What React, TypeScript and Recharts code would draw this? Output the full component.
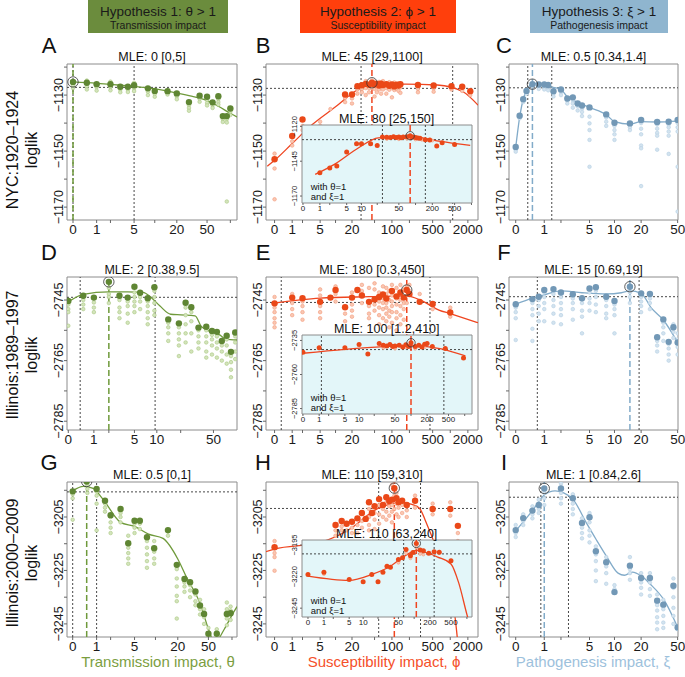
import React from 'react';
import { ComposedChart, Scatter, Line, XAxis, YAxis, ReferenceLine, ReferenceArea } from 'recharts';

document.body.style.margin = '0';

const FONT = '"Liberation Sans", Arial, Helvetica, sans-serif';
const tr = (v: number) => Math.log1p(v);
const fmt = (v: number) => (v < 0 ? '\u2212' + Math.abs(v) : String(v));

// ---- axis ticks ----
const thetaTicks = [0, 1, 2, 5, 10, 20, 50, 100];
const phiTicks = [0, 1, 2, 5, 10, 20, 50, 100, 200, 500, 1000, 2000];
const phiLabels = [0, 1, 5, 20, 100, 500, 2000];
const xiTicks = [0, 1, 2, 5, 10, 20, 50];
const xiLabels = [0, 1, 5, 10, 20, 50];
const insetTicks = [0, 1, 2, 5, 10, 20, 50, 100, 200, 500, 1000];
const insetLabels = [0, 1, 5, 10, 50, 200, 500];

const nycTicks = [-1170, -1160, -1150, -1140, -1130, -1120];
const nycLabels = [-1170, -1150, -1130];
const il89Ticks = [-2785, -2775, -2765, -2755, -2745];
const il89Labels = [-2785, -2765, -2745];
const il00Ticks = [-3245, -3235, -3225, -3215, -3205, -3195];
const il00Labels = [-3245, -3225, -3205];

// ---- A: NYC, theta ----
const aBig = [[0.5, -1125.6], [1, -1126.1], [2, -1126.1], [3, -1127.0], [4, -1127.0], [5, -1126.5], [8, -1127.6], [10, -1128.5], [15, -1128.6], [20, -1129.4], [29, -1132.5], [40, -1130.2], [50, -1130.6], [59, -1132.6], [70, -1130.4], [80, -1137.5], [90, -1137.5], [100, -1134.8]];
const aSmall = [[0, -1126.5], [0, -1127.5], [0.5, -1124.8], [0.5, -1126.9], [0.5, -1128.0], [1, -1127.2], [1, -1128.4], [2, -1125.2], [2, -1127.2], [2, -1128.3], [3, -1128.0], [3, -1129.0], [4, -1128.0], [4, -1128.9], [5, -1125.6], [5, -1127.6], [5, -1128.6], [8, -1128.8], [8, -1130.0], [10, -1129.6], [10, -1130.6], [15, -1129.8], [20, -1130.5], [20, -1131.5], [29, -1133.6], [29, -1134.6], [29, -1135.6], [40, -1131.3], [40, -1132.4], [50, -1131.7], [50, -1132.8], [50, -1133.7], [59, -1133.7], [59, -1134.6], [70, -1131.5], [70, -1132.5], [70, -1133.4], [80, -1138.6], [80, -1139.6], [90, -1138.6], [90, -1139.8], [90, -1168.0], [100, -1135.9], [100, -1137.1]];
const aCurve = [[0, -1125.3], [1, -1125.8], [2, -1126.2], [5, -1126.9], [10, -1127.8], [20, -1129.3], [30, -1130.3], [50, -1132.0], [70, -1134.0], [100, -1136.5], [122, -1137.8]];
const aMle = [0, -1125.3];
const aCi = [0, 5];
const aCut = -1127.25;

// ---- B: NYC, phi ----
const bBig = [[0, -1152.9], [1, -1144.6], [2, -1138.7], [15, -1129.8], [20, -1129.8], [25, -1126.8], [30, -1126.5], [35, -1126.0], [40, -1126.3], [50, -1126.2], [55, -1126.0], [60, -1126.6], [65, -1125.9], [70, -1126.4], [80, -1126.1], [90, -1126.7], [100, -1126.2], [110, -1126.9], [120, -1126.3], [130, -1126.6], [140, -1126.1], [280, -1126.4], [520, -1126.6], [1050, -1126.8], [1600, -1127.0], [2200, -1128.6]];
const bSmall = [[0, -1150.9], [0, -1156.2], [0, -1167.2], [1, -1146.5], [1, -1148.0], [2, -1141.0], [2, -1142.5], [5, -1139.5], [5, -1141.0], [8, -1135.0], [15, -1131.0], [15, -1132.5], [20, -1131.2], [20, -1133.0], [25, -1128.0], [25, -1129.5], [30, -1127.8], [30, -1129.0], [35, -1125.0], [35, -1127.5], [35, -1130.0], [40, -1127.5], [40, -1129.0], [45, -1124.8], [45, -1127.5], [50, -1125.2], [50, -1127.8], [50, -1130.5], [55, -1127.2], [55, -1129.0], [60, -1125.3], [60, -1128.0], [65, -1127.3], [65, -1129.5], [70, -1125.0], [70, -1128.0], [80, -1127.5], [80, -1129.5], [90, -1125.4], [90, -1128.1], [100, -1127.5], [100, -1130.8], [110, -1125.5], [110, -1128.2], [120, -1127.8], [130, -1125.8], [130, -1128.5], [140, -1127.3], [140, -1129.2], [280, -1127.8], [280, -1129.0], [520, -1127.6], [520, -1128.8], [1050, -1128.0], [1600, -1128.5], [2200, -1130.0]];
const bCurve = [[-0.25, -1155.4], [0, -1153.3], [1, -1147.3], [3.3, -1140.7], [10, -1134.2], [25, -1128.2], [45, -1126.4], [170, -1126.1], [600, -1126.4], [1650, -1128.8], [2980, -1133.6]];
const bMle = [45, -1125.6];
const bCi = [29, 1100];
const bCut = -1127.6;

const bInBig = [[1, -1153.3], [2, -1149.9], [3, -1148.5], [5, -1138.3], [8, -1132.5], [10, -1132.5], [15, -1132.5], [20, -1133.7], [25, -1127.6], [30, -1127.8], [35, -1128.0], [40, -1127.5], [45, -1127.9], [50, -1127.6], [55, -1128.1], [60, -1127.7], [70, -1127.4], [90, -1127.6], [100, -1128.0], [110, -1128.3], [120, -1128.6], [150, -1129.5], [180, -1129.8], [240, -1134.1], [300, -1131.8], [500, -1133.0]];
const bInSmall = [[30, -1129.0], [50, -1129.2], [70, -1128.8], [100, -1129.4], [130, -1129.6], [200, -1130.2]];
const bInCurve = [[0.65, -1154.5], [2.75, -1146.9], [8.8, -1135.3], [21, -1128.3], [80, -1127.2], [260, -1130.6], [950, -1133.7]];
const bInMle = [80, -1126.7];
const bInCi = [25, 150];
const bInCut = -1129.5;

// ---- C: NYC, xi ----
const cBig = [[0, -1148.5], [0.1, -1137.4], [0.2, -1131.5], [0.3, -1128.5], [0.75, -1126.2], [1, -1126.2], [1.2, -1126.4], [1.5, -1128.6], [2, -1128.0], [2.5, -1131.2], [3, -1130.8], [3.5, -1133.0], [4, -1133.7], [5, -1134.4], [8, -1136.9], [10, -1139.9], [15, -1140.1], [20, -1138.9], [30, -1139.6], [40, -1139.5], [50, -1138.9]];
const cSmall = [[0, -1149.5], [0, -1150.2], [0.1, -1138.3], [0.2, -1132.5], [0.3, -1129.5], [0.5, -1126.8], [0.75, -1127.0], [0.75, -1127.8], [1, -1127.2], [1, -1128.0], [1.2, -1127.3], [1.2, -1128.3], [1.5, -1129.5], [1.5, -1130.5], [2, -1129.0], [2, -1130.0], [2.5, -1132.0], [2.5, -1133.0], [3, -1131.8], [3, -1133.0], [3, -1134.5], [3.5, -1134.0], [3.5, -1135.5], [4, -1134.8], [4, -1136.0], [4, -1137.5], [5, -1137.7], [5, -1140.1], [5, -1142.5], [5, -1146.0], [5, -1155.6], [8, -1138.0], [8, -1139.5], [8, -1141.0], [10, -1141.0], [10, -1142.5], [10, -1144.0], [10, -1146.0], [15, -1141.5], [15, -1142.5], [20, -1140.0], [20, -1142.0], [20, -1144.0], [20, -1148.0], [20, -1149.0], [20, -1162.5], [30, -1140.5], [30, -1142.0], [30, -1143.5], [30, -1144.5], [30, -1149.5], [40, -1140.5], [40, -1141.5], [40, -1143.0], [40, -1144.5], [40, -1151.0], [50, -1140.0], [50, -1141.5], [50, -1143.0], [50, -1155.6], [50, -1171.6]];
const cCurve = [[0, -1148.7], [0.11, -1137.1], [0.2, -1131.5], [0.31, -1128.2], [0.47, -1126.1], [0.67, -1125.8], [1, -1126.2], [1.3, -1127.0], [2, -1128.0], [2.45, -1130.4], [3.4, -1132.4], [5, -1134.4], [8.1, -1137.1], [10, -1139.5], [15, -1140.4], [20, -1139.5], [30, -1139.6], [50, -1139.3]];
const cMle = [0.5, -1126.1];
const cCi = [0.34, 1.4];
const cCut = -1127.4;

// ---- D: Illinois 1989-1997, theta ----
const dBig = [[0, -2745.3], [0.5, -2743.6], [1, -2744.2], [3, -2743.6], [4, -2744.2], [5, -2740.6], [6, -2742.6], [7.6, -2744.4], [9.3, -2740.8], [14, -2751.4], [19, -2752.7], [23, -2745.9], [27, -2747.4], [33, -2754.1], [41, -2753.8], [48, -2755.2], [55, -2755.5], [63, -2758.5], [72, -2756.8], [81, -2762.1], [91, -2755.7]];
const dSmall = [[0, -2746.5], [0, -2748.0], [0, -2749.0], [0, -2753.5], [0.5, -2745.0], [0.5, -2746.5], [0.5, -2748.0], [1, -2745.8], [1, -2747.5], [1, -2749.0], [2, -2741.0], [2, -2743.0], [2, -2744.0], [2, -2746.0], [3, -2745.0], [3, -2747.5], [3, -2749.0], [3, -2751.0], [4, -2745.5], [4, -2747.0], [4, -2749.5], [4, -2752.5], [5, -2742.5], [5, -2744.0], [5, -2745.5], [5, -2747.0], [5, -2749.0], [6, -2744.0], [6, -2745.5], [6, -2748.0], [7.6, -2745.5], [7.6, -2747.0], [7.6, -2749.0], [7.6, -2751.0], [7.6, -2753.0], [9.3, -2742.0], [9.3, -2744.0], [9.3, -2746.0], [9.3, -2748.5], [9.3, -2750.0], [14, -2752.5], [14, -2754.0], [14, -2756.0], [14, -2758.5], [19, -2754.0], [19, -2756.0], [19, -2758.0], [19, -2760.0], [19, -2763.5], [23, -2747.5], [23, -2750.0], [23, -2753.0], [23, -2756.0], [23, -2759.0], [27, -2749.0], [27, -2752.0], [27, -2756.0], [27, -2762.0], [33, -2755.0], [33, -2757.0], [33, -2759.0], [33, -2761.0], [41, -2755.0], [41, -2757.0], [41, -2759.0], [41, -2762.0], [41, -2764.0], [48, -2756.5], [48, -2758.0], [48, -2760.0], [48, -2763.0], [55, -2757.0], [55, -2759.0], [55, -2761.0], [55, -2764.0], [63, -2760.0], [63, -2762.0], [63, -2765.0], [72, -2758.0], [72, -2760.0], [72, -2763.0], [72, -2766.0], [81, -2763.5], [81, -2765.5], [81, -2768.0], [81, -2770.5], [91, -2757.0], [91, -2759.0], [91, -2762.0], [91, -2764.5]];
const dCurve = [[0, -2745.6], [0.5, -2743.1], [2, -2742.3], [4, -2742.3], [6.6, -2742.5], [8.2, -2743.9], [11, -2747.0], [15, -2749.7], [20, -2749.9], [30, -2750.2], [36, -2753.8], [60, -2756.6], [70, -2757.9], [96, -2758.2]];
const dMle = [2, -2739.0];
const dCi = [0.38, 9.5];
const dCut = -2744.1;

// ---- E: Illinois 1989-1997, phi ----
const eBig = [[0, -2746.1], [1, -2744.2], [2, -2744.4], [5, -2745.6], [8, -2744.2], [10, -2741.7], [15, -2747.4], [20, -2744.2], [25, -2741.7], [30, -2743.5], [40, -2745.6], [50, -2744.8], [60, -2744.0], [70, -2743.2], [80, -2744.5], [100, -2742.0], [120, -2743.8], [140, -2742.5], [160, -2744.2], [200, -2743.0], [300, -2745.6], [500, -2746.3], [1000, -2749.1]];
const eSmall = [[0, -2744.0], [0, -2747.5], [0, -2749.0], [0, -2751.0], [0, -2752.5], [0, -2754.0], [1, -2743.0], [1, -2746.0], [1, -2748.0], [1, -2750.0], [2, -2745.5], [2, -2747.0], [2, -2749.0], [2, -2751.5], [5, -2741.5], [5, -2743.5], [5, -2747.0], [5, -2749.0], [5, -2751.0], [10, -2740.5], [10, -2743.0], [10, -2745.5], [15, -2749.5], [15, -2752.0], [20, -2742.5], [20, -2746.5], [20, -2748.5], [20, -2750.5], [30, -2740.0], [30, -2742.0], [30, -2746.0], [40, -2741.0], [40, -2747.0], [40, -2749.5], [40, -2751.0], [50, -2739.5], [50, -2741.5], [50, -2746.5], [50, -2748.5], [60, -2742.5], [60, -2745.5], [60, -2747.5], [60, -2750.0], [60, -2753.0], [70, -2740.5], [70, -2744.5], [70, -2746.0], [70, -2748.0], [70, -2751.0], [80, -2741.0], [80, -2743.0], [80, -2746.0], [80, -2747.5], [80, -2749.5], [80, -2752.0], [90, -2742.0], [90, -2745.0], [90, -2748.5], [90, -2750.5], [90, -2754.0], [100, -2740.0], [100, -2743.5], [100, -2745.5], [100, -2747.0], [100, -2749.0], [100, -2752.5], [120, -2741.0], [120, -2744.5], [120, -2746.5], [120, -2749.0], [120, -2751.0], [120, -2755.0], [140, -2740.0], [140, -2745.0], [140, -2747.0], [140, -2750.0], [140, -2753.0], [160, -2741.5], [160, -2746.0], [160, -2748.0], [160, -2751.5], [180, -2740.5], [180, -2743.5], [180, -2746.0], [200, -2740.0], [200, -2742.0], [300, -2743.0], [500, -2748.0], [1000, -2747.5], [1000, -2750.5]];
const eCurve = [[-0.1, -2746.1], [5, -2744.4], [40, -2743.9], [180, -2743.6], [330, -2745.3], [640, -2748.3], [1000, -2749.5], [2980, -2752.5]];
const eMle = [180, -2741.7];
const eCi = [0.3, 450];
const eCut = -2745.8;

const eInBig = [[0, -2743.7], [1, -2740.4], [5, -2740.4], [10, -2738.0], [15, -2744.9], [25, -2737.2], [30, -2738.5], [35, -2739.0], [40, -2738.0], [45, -2739.5], [50, -2739.0], [60, -2738.5], [70, -2739.8], [80, -2738.2], [90, -2739.5], [120, -2739.4], [140, -2738.6], [160, -2739.8], [180, -2737.8], [200, -2737.2], [250, -2739.5], [436, -2741.0], [950, -2747.8]];
const eInSmall = [[30, -2740.5], [50, -2741.0], [80, -2740.2], [120, -2741.0], [180, -2740.0]];
const eInCurve = [[0, -2744.4], [5, -2741.5], [30, -2739.5], [100, -2738.8], [347, -2741.0], [1030, -2746.4]];
const eInMle = [100, -2736.7];
const eInCi = [1.2, 410];
const eInCut = -2741.7;

// ---- F: Illinois 1989-1997, xi ----
const fBig = [[0, -2746.4], [0.5, -2744.7], [0.75, -2743.9], [1, -2741.7], [1.5, -2741.4], [2, -2742.5], [3, -2743.1], [4, -2744.4], [5, -2741.2], [6, -2740.8], [8, -2743.9], [10, -2745.3], [20, -2742.8], [25, -2743.0], [30, -2757.3], [35, -2751.4], [40, -2758.8], [45, -2754.0], [50, -2759.0]];
const fSmall = [[0, -2747.5], [0, -2749.0], [0, -2751.0], [0, -2758.2], [0.5, -2746.0], [0.5, -2748.0], [0.5, -2750.0], [0.5, -2754.5], [0.5, -2758.5], [0.75, -2745.0], [0.75, -2747.0], [0.75, -2749.5], [0.75, -2752.0], [1, -2742.5], [1, -2744.0], [1, -2746.0], [1, -2748.0], [1, -2752.0], [1.5, -2743.0], [1.5, -2745.0], [1.5, -2747.0], [1.5, -2749.5], [1.5, -2752.5], [2, -2744.0], [2, -2746.0], [2, -2748.0], [2, -2750.0], [2, -2753.0], [3, -2744.5], [3, -2746.0], [3, -2748.0], [3, -2751.5], [4, -2746.0], [4, -2748.5], [4, -2750.5], [4, -2756.0], [5, -2742.5], [5, -2744.5], [5, -2746.0], [5, -2748.5], [6, -2742.0], [6, -2744.0], [6, -2746.5], [6, -2749.0], [8, -2745.0], [8, -2747.0], [8, -2749.5], [8, -2751.0], [10, -2746.5], [10, -2748.0], [10, -2750.0], [10, -2756.0], [15, -2742.5], [15, -2744.0], [15, -2746.0], [20, -2744.0], [20, -2745.5], [20, -2747.0], [20, -2749.0], [25, -2744.5], [25, -2746.0], [25, -2748.0], [30, -2758.5], [30, -2760.0], [30, -2762.0], [35, -2752.5], [35, -2754.0], [35, -2756.0], [35, -2758.5], [40, -2759.5], [40, -2761.0], [40, -2763.0], [40, -2765.0], [45, -2753.0], [45, -2755.5], [45, -2757.5], [50, -2756.0], [50, -2758.0], [50, -2760.5], [50, -2763.0]];
const fCurve = [[0, -2746.4], [0.5, -2744.4], [1, -2743.3], [2, -2742.0], [4, -2742.6], [8, -2743.0], [12, -2742.6], [15, -2742.0], [20, -2742.8], [26, -2747.7], [35, -2751.6], [50, -2759.0]];
const fMle = [15, -2740.6];
const fCi = [0.69, 19];
const fCut = -2743.9;

// ---- G: Illinois 2000-2009, theta ----
const gBig = [[0, -3195.4], [1, -3194.5], [1.55, -3198.9], [2, -3204.3], [3, -3202.0], [4, -3214.8], [5, -3206.4], [6, -3206.4], [7.6, -3212.6], [9.6, -3216.7], [14.8, -3209.9], [19.4, -3222.9], [24.5, -3228.2], [29, -3229.4], [34, -3232.9], [39, -3238.1], [44, -3241.3], [50, -3248.7], [64, -3248.7], [86, -3241.3], [96, -3241.0]];
const gSmall = [[0, -3196.5], [0, -3198.0], [0, -3206.0], [0.53, -3193.0], [0.53, -3194.5], [0.53, -3196.0], [1, -3195.5], [1, -3197.0], [1, -3200.0], [1, -3210.0], [1.55, -3200.0], [1.55, -3201.5], [1.55, -3203.0], [2, -3205.0], [2, -3207.0], [2, -3209.0], [2, -3211.0], [3, -3203.5], [3, -3205.0], [3, -3207.0], [4, -3212.0], [4, -3216.5], [4, -3218.5], [4, -3220.5], [4, -3222.5], [5, -3207.5], [5, -3209.0], [5, -3211.0], [6, -3207.5], [6, -3209.5], [7.6, -3214.0], [7.6, -3216.5], [7.6, -3219.0], [7.6, -3221.5], [7.6, -3224.0], [9.6, -3214.0], [9.6, -3218.0], [9.6, -3220.5], [9.6, -3222.5], [14.8, -3210.5], [14.8, -3212.0], [19.4, -3224.5], [19.4, -3228.0], [19.4, -3231.0], [19.4, -3234.5], [19.4, -3236.5], [19.4, -3243.0], [24.5, -3229.5], [24.5, -3231.0], [24.5, -3233.0], [29, -3230.5], [29, -3232.5], [29, -3235.0], [34, -3234.0], [34, -3236.5], [34, -3238.0], [39, -3236.0], [39, -3239.5], [39, -3241.5], [44, -3239.5], [44, -3242.5], [44, -3245.0], [50, -3246.5], [64, -3247.0], [86, -3237.0], [86, -3239.5], [86, -3243.0], [86, -3245.5], [96, -3238.5], [96, -3240.0], [96, -3243.5]];
const gCurve = [[0, -3195.2], [0.36, -3193.5], [0.81, -3194.3], [1.4, -3198.3], [3, -3207.0], [5, -3208.5], [8, -3211.4], [12.7, -3213.0], [20, -3220.7], [26, -3227.5], [40, -3238.1], [50, -3246.9], [60, -3252.0], [80, -3246.9], [105, -3240.6], [116, -3238.5]];
const gMle = [0.5, -3191.7];
const gCi = [0, 1];
const gCut = -3195.6;

// ---- H: Illinois 2000-2009, phi ----
const hBig = [[0, -3216.3], [10, -3208.0], [13, -3206.5], [16, -3207.5], [20, -3206.8], [25, -3205.5], [30, -3203.5], [35, -3205.7], [40, -3199.5], [45, -3203.5], [50, -3201.0], [60, -3198.3], [70, -3200.5], [80, -3197.6], [90, -3199.0], [100, -3198.5], [120, -3198.0], [130, -3199.5], [150, -3198.9], [180, -3200.5], [250, -3198.9], [500, -3202.0], [1000, -3202.0], [1350, -3208.3]];
const hSmall = [[0, -3214.0], [0, -3218.5], [0, -3220.0], [0, -3225.1], [10, -3210.0], [10, -3212.0], [13, -3208.5], [13, -3210.0], [16, -3210.0], [20, -3209.0], [20, -3211.0], [25, -3208.0], [25, -3211.0], [30, -3206.5], [30, -3209.0], [40, -3202.0], [40, -3205.0], [40, -3208.0], [40, -3210.0], [50, -3203.5], [50, -3206.0], [50, -3209.5], [60, -3200.5], [60, -3204.0], [60, -3207.5], [70, -3202.0], [70, -3205.0], [80, -3199.5], [80, -3203.0], [80, -3206.0], [90, -3201.0], [90, -3204.5], [100, -3193.0], [100, -3200.5], [100, -3203.0], [100, -3207.0], [110, -3191.5], [110, -3197.0], [110, -3202.0], [120, -3196.0], [120, -3200.0], [120, -3204.0], [130, -3201.5], [130, -3205.0], [150, -3200.5], [150, -3203.5], [180, -3202.5], [180, -3205.0], [250, -3197.0], [250, -3201.5], [500, -3200.0], [500, -3204.0], [1000, -3199.5], [1000, -3204.5], [1350, -3211.0], [1350, -3214.0]];
const hCurve = [[-0.3, -3218.0], [0, -3217.0], [5, -3214.5], [20, -3209.0], [50, -3202.5], [100, -3200.0], [150, -3199.6], [220, -3200.3], [300, -3201.8], [370, -3206.0], [600, -3218.0], [900, -3232.0], [1200, -3242.0], [1400, -3256.0]];
const hMle = [110, -3194.2];
const hCi = [59, 310];
const hCut = -3201.8;

const hInBig = [[0, -3218.3], [1, -3216.5], [5, -3222.2], [10, -3224.1], [15, -3218.3], [20, -3224.1], [25, -3216.5], [30, -3211.8], [35, -3212.5], [50, -3206.5], [60, -3205.0], [70, -3198.6], [85, -3203.4], [95, -3201.0], [130, -3199.0], [150, -3199.5], [190, -3201.5], [240, -3200.3], [300, -3200.8], [500, -3207.5]];
const hInSmall = [[1, -3218.0], [50, -3209.0], [70, -3201.5], [85, -3205.5], [110, -3197.0], [130, -3202.0], [150, -3202.5]];
const hInCurve = [[0, -3219.6], [5, -3223.0], [15, -3218.3], [35, -3211.8], [70, -3203.0], [110, -3199.2], [190, -3201.7], [280, -3204.5], [500, -3210.0], [700, -3225.0], [1000, -3250.0], [1200, -3262.0]];
const hInMle = [110, -3193.7];
const hInCi = [63, 240];
const hInCut = -3202.0;

// ---- I: Illinois 2000-2009, xi ----
const iBig = [[0, -3209.9], [0.2, -3205.4], [0.5, -3202.6], [0.75, -3200.5], [2, -3194.3], [3, -3198.0], [4, -3207.2], [5, -3205.1], [6, -3217.8], [8, -3221.9], [10, -3233.1], [15, -3223.2], [20, -3227.8], [25, -3227.8], [30, -3236.3], [35, -3237.8], [45, -3230.7], [50, -3246.3]];
const iSmall = [[0, -3208.0], [0, -3211.0], [0, -3212.5], [0.2, -3204.0], [0.2, -3206.5], [0.2, -3208.0], [0.5, -3201.0], [0.5, -3204.0], [0.5, -3205.5], [0.75, -3198.5], [0.75, -3202.0], [0.75, -3203.5], [1, -3196.0], [1, -3198.0], [1, -3200.5], [2, -3192.5], [2, -3196.0], [2, -3198.0], [2, -3200.0], [3, -3196.5], [3, -3200.0], [3, -3202.0], [3, -3204.0], [4, -3205.5], [4, -3209.0], [4, -3211.0], [4, -3213.0], [5, -3203.5], [5, -3207.0], [5, -3210.0], [5, -3212.0], [5, -3214.5], [6, -3216.0], [6, -3219.0], [6, -3221.5], [6, -3225.0], [6, -3229.0], [8, -3220.0], [8, -3223.5], [8, -3226.0], [8, -3230.0], [10, -3230.5], [10, -3232.0], [15, -3220.0], [15, -3224.5], [15, -3226.0], [15, -3228.5], [20, -3226.0], [20, -3229.5], [20, -3231.5], [20, -3234.0], [25, -3226.0], [25, -3229.5], [25, -3232.0], [25, -3234.5], [30, -3234.0], [30, -3238.0], [30, -3240.0], [30, -3242.5], [30, -3244.5], [30, -3247.0], [35, -3236.0], [35, -3239.5], [35, -3242.0], [35, -3244.5], [35, -3246.5], [45, -3228.0], [45, -3231.5], [45, -3235.0], [45, -3239.0], [45, -3242.0], [45, -3245.0], [50, -3247.0]];
const iCurve = [[0, -3210.2], [0.5, -3202.6], [1, -3196.8], [1.6, -3195.2], [2.2, -3196.0], [3, -3198.3], [4.6, -3207.4], [6.1, -3213.6], [8.1, -3219.8], [11, -3226.0], [13, -3226.8], [16, -3225.6], [20, -3227.0], [25, -3230.0], [36, -3236.3], [50, -3246.3]];
const iMle = [1, -3194.3];
const iCi = [0.84, 2.6];
const iCut = -3197.6;

// ---- styles ----
const GREEN = { line: '#6f9a3b', big: '#5f8633', small: '#a9c782', fill: '#d3e4bb', title: '#7b9e3f' };
const RED = { line: '#ef4520', big: '#ea4818', small: '#f49a7c', fill: '#f9c7b2', title: '#f5502a' };
const BLUE = { line: '#82abc9', big: '#7298b6', small: '#b3cee2', fill: '#d3e3ef', title: '#9dc1dc' };

const ROW1 = { top: 64, h: 156, y: [-1174.6, -1118.9], ticks: nycTicks, labels: nycLabels };
const ROW2 = { top: 277, h: 153, y: [-2787.9, -2737.4], ticks: il89Ticks, labels: il89Labels };
const ROW3 = { top: 482, h: 155, y: [-3249.9, -3191.9], ticks: il00Ticks, labels: il00Labels };
const COL1 = { left: 67, w: 170 };
const COL2 = { left: 266, w: 212 };
const COL3 = { left: 509, w: 169 };

type Cfg = {
  left: number; top: number; w: number; h: number;
  xDom: number[]; yDom: number[];
  xTicks: number[]; xLabels: number[]; yTicks: number[]; yLabels: number[];
  small: number[][]; big: number[][]; curve: number[][];
  mle: number[]; ci: number[]; cut: number; pal: any; inset?: boolean;
};

const toPts = (arr: number[][]) => arr.map(([x, y]) => ({ t: tr(x), y }));

function Panel({ c }: { c: Cfg }) {
  const ins = !!c.inset;
  const padL = ins ? 16 : 40;
  const padR = ins ? 12 : 20;
  const padT = ins ? 14 : 2;
  const padB = ins ? 12 : 24;
  const xFs = ins ? 8 : 13.5;
  const yFs = ins ? 7.5 : 12.5;
  const tks = ins ? 2 : 3;
  const xt = c.xTicks.filter((v) => tr(v) >= c.xDom[0] && tr(v) <= c.xDom[1]);
  const yt = c.yTicks.filter((v) => v >= c.yDom[0] && v <= c.yDom[1]);
  const rBig = ins ? 2.5 : 3.2;
  const rSmall = ins ? 1.5 : 1.8;

  const XTick = (p: any) => {
    const v = xt.find((q) => Math.abs(tr(q) - p.payload.value) < 1e-6);
    if (v === undefined || !c.xLabels.includes(v)) return null;
    return (
      <text x={p.x} y={p.y + (ins ? 2.5 : 4)} textAnchor="middle" dominantBaseline="central" fontSize={xFs} fontFamily={FONT} fill="#1a1a1a">
        {v}
      </text>
    );
  };
  const YTick = (p: any) => {
    if (!c.yLabels.includes(p.payload.value)) return null;
    const cx = p.x - (ins ? 4.5 : 3);
    return (
      <text x={cx} y={p.y} transform={`rotate(-90 ${cx} ${p.y})`} textAnchor="middle" dominantBaseline="central" fontSize={yFs} fontFamily={FONT} fill="#1a1a1a">
        {fmt(p.payload.value)}
      </text>
    );
  };

  return (
    <div style={{ position: 'absolute', left: c.left - padL, top: c.top - padT }}>
      <ComposedChart width={c.w + padL + padR} height={c.h + padB + padT} margin={{ top: padT, right: padR, left: 0, bottom: 0 }}>
        <XAxis type="number" dataKey="t" domain={c.xDom} allowDataOverflow ticks={xt.map(tr)} interval={0}
          tick={XTick} tickLine={{ stroke: '#666' }} tickSize={tks} tickMargin={ins ? 1 : 2} axisLine={false} height={padB} />
        <YAxis type="number" dataKey="y" domain={c.yDom} allowDataOverflow ticks={yt} interval={0}
          tick={YTick} tickLine={{ stroke: '#666' }} tickSize={tks} tickMargin={ins ? 1 : 2} axisLine={false} width={padL} />
        <ReferenceArea x1={c.xDom[0]} x2={c.xDom[1]} y1={c.yDom[0]} y2={c.yDom[1]}
          fill={ins ? '#e3f6f9' : 'none'} fillOpacity={1} stroke="#8c8c8c" strokeWidth={1} />
        <ReferenceLine y={c.cut} stroke="#333" strokeDasharray="2 2" strokeWidth={0.9} />
        <ReferenceLine x={tr(c.ci[0])} stroke="#333" strokeDasharray="2 2" strokeWidth={0.9} />
        <ReferenceLine x={tr(c.ci[1])} stroke="#333" strokeDasharray="2 2" strokeWidth={0.9} />
        <ReferenceLine x={tr(c.mle[0])} stroke={c.pal.line} strokeDasharray="6 3" strokeWidth={1.5} />
        <Scatter data={toPts(c.small)} isAnimationActive={false}
          shape={(p: any) => <circle cx={p.cx} cy={p.cy} r={rSmall} fill={c.pal.fill} stroke={c.pal.small} strokeWidth={0.6} />} />
        <Line data={toPts(c.curve)} dataKey="y" type="monotone" stroke={c.pal.line} strokeWidth={1.3} dot={false} isAnimationActive={false} />
        <Scatter data={toPts(c.big)} isAnimationActive={false}
          shape={(p: any) => <circle cx={p.cx} cy={p.cy} r={rBig} fill={c.pal.big} />} />
        <Scatter data={toPts([c.mle])} isAnimationActive={false}
          shape={(p: any) => (
            <g>
              <circle cx={p.cx} cy={p.cy} r={rBig} fill={c.pal.big} />
              <circle cx={p.cx} cy={p.cy} r={ins ? 4.2 : 5.2} fill="none" stroke="#333" strokeWidth={0.8} />
            </g>
          )} />
      </ComposedChart>
    </div>
  );
}

const title = (m: number[], ci: number[]) => `MLE: ${m[0]} [${ci[0]},${ci[1]}]`;

const panels: Cfg[] = [
  { ...COL1, top: ROW1.top, h: ROW1.h, xDom: [-0.176, 4.81], yDom: ROW1.y, xTicks: thetaTicks, xLabels: [0, 1, 5, 20, 50], yTicks: ROW1.ticks, yLabels: ROW1.labels, small: aSmall, big: aBig, curve: aCurve, mle: aMle, ci: aCi, cut: aCut, pal: GREEN },
  { ...COL2, top: ROW1.top, h: ROW1.h, xDom: [-0.337, 8.0], yDom: ROW1.y, xTicks: phiTicks, xLabels: phiLabels, yTicks: ROW1.ticks, yLabels: ROW1.labels, small: bSmall, big: bBig, curve: bCurve, mle: bMle, ci: bCi, cut: bCut, pal: RED },
  { ...COL3, top: ROW1.top, h: ROW1.h, xDom: [-0.163, 3.94], yDom: ROW1.y, xTicks: xiTicks, xLabels: xiLabels, yTicks: ROW1.ticks, yLabels: ROW1.labels, small: cSmall, big: cBig, curve: cCurve, mle: cMle, ci: cCi, cut: cCut, pal: BLUE },
  { ...COL1, top: ROW2.top, h: ROW2.h, xDom: [-0.035, 4.57], yDom: ROW2.y, xTicks: thetaTicks, xLabels: [0, 1, 5, 10, 50], yTicks: ROW2.ticks, yLabels: ROW2.labels, small: dSmall, big: dBig, curve: dCurve, mle: dMle, ci: dCi, cut: dCut, pal: GREEN },
  { ...COL2, top: ROW2.top, h: ROW2.h, xDom: [-0.337, 8.0], yDom: ROW2.y, xTicks: phiTicks, xLabels: phiLabels, yTicks: ROW2.ticks, yLabels: ROW2.labels, small: eSmall, big: eBig, curve: eCurve, mle: eMle, ci: eCi, cut: eCut, pal: RED },
  { ...COL3, top: ROW2.top, h: ROW2.h, xDom: [-0.163, 3.94], yDom: ROW2.y, xTicks: xiTicks, xLabels: xiLabels, yTicks: ROW2.ticks, yLabels: ROW2.labels, small: fSmall, big: fBig, curve: fCurve, mle: fMle, ci: fCi, cut: fCut, pal: BLUE },
  { ...COL1, top: ROW3.top, h: ROW3.h, xDom: [-0.165, 4.76], yDom: ROW3.y, xTicks: thetaTicks, xLabels: [0, 1, 5, 20, 50], yTicks: ROW3.ticks, yLabels: ROW3.labels, small: gSmall, big: gBig, curve: gCurve, mle: gMle, ci: gCi, cut: gCut, pal: GREEN },
  { ...COL2, top: ROW3.top, h: ROW3.h, xDom: [-0.337, 8.0], yDom: ROW3.y, xTicks: phiTicks, xLabels: phiLabels, yTicks: ROW3.ticks, yLabels: ROW3.labels, small: hSmall, big: hBig, curve: hCurve, mle: hMle, ci: hCi, cut: hCut, pal: RED },
  { ...COL3, top: ROW3.top, h: ROW3.h, xDom: [-0.163, 3.94], yDom: ROW3.y, xTicks: xiTicks, xLabels: xiLabels, yTicks: ROW3.ticks, yLabels: ROW3.labels, small: iSmall, big: iBig, curve: iCurve, mle: iMle, ci: iCi, cut: iCut, pal: BLUE },
];

const insets: Cfg[] = [
  { left: 301.7, top: 125, w: 170, h: 78, xDom: [-0.04, 6.93], yDom: [-1175, -1119], xTicks: insetTicks, xLabels: insetLabels, yTicks: [-1170, -1145, -1120], yLabels: [-1170, -1145, -1120], small: bInSmall, big: bInBig, curve: bInCurve, mle: bInMle, ci: bInCi, cut: bInCut, pal: RED, inset: true },
  { left: 301.7, top: 335, w: 170, h: 79, xDom: [-0.04, 7.22], yDom: [-2789, -2731], xTicks: insetTicks, xLabels: insetLabels, yTicks: [-2785, -2760, -2735], yLabels: [-2785, -2760, -2735], small: eInSmall, big: eInBig, curve: eInCurve, mle: eInMle, ci: eInCi, cut: eInCut, pal: RED, inset: true },
  { left: 301.7, top: 540, w: 170, h: 77, xDom: [-0.26, 7.13], yDom: [-3252, -3191], xTicks: insetTicks, xLabels: insetLabels, yTicks: [-3245, -3220, -3195], yLabels: [-3245, -3220, -3195], small: hInSmall, big: hInBig, curve: hInCurve, mle: hInMle, ci: hInCi, cut: hInCut, pal: RED, inset: true },
];

const letters = [['A', 49, 45], ['B', 263, 45], ['C', 504, 45], ['D', 49, 252], ['E', 263, 252], ['F', 504, 252], ['G', 49, 462], ['H', 263, 462], ['I', 504, 462]];
const rows = [['NYC:1920\u20131924', 150], ['Illinois:1989\u20131997', 355], ['Illinois:2000\u20132009', 563]];
const headers = [
  { x: 88, w: 140, fill: '#6b8c3d', l1: 'Hypothesis 1: \u03b8 > 1', l2: 'Transmission impact' },
  { x: 300, w: 156, fill: '#ff3f0c', l1: 'Hypothesis 2: \u03d5 > 1', l2: 'Susceptibility impact' },
  { x: 530, w: 138, fill: '#8fb5cf', l1: 'Hypothesis 3: \u03be > 1', l2: 'Pathogenesis impact' },
];
const xTitles = [
  { text: 'Transmission impact, \u03b8', x: 158, color: GREEN.title },
  { text: 'Susceptibility impact, \u03d5', x: 384, color: RED.title },
  { text: 'Pathogenesis impact, \u03be', x: 593, color: BLUE.title },
];

export default function App() {
  return (
    <div style={{ position: 'relative', width: 685, height: 677, background: '#fff', fontFamily: FONT, overflow: 'hidden' }}>
      {panels.map((c, i) => <Panel key={'p' + i} c={c} />)}
      {insets.map((c, i) => <Panel key={'i' + i} c={c} />)}
      <svg width={685} height={677} style={{ position: 'absolute', left: 0, top: 0, pointerEvents: 'none' }} fontFamily={FONT}>
        {headers.map((h) => (
          <g key={h.l1}>
            <rect x={h.x} y={0} width={h.w} height={33} fill={h.fill} />
            <text x={h.x + h.w / 2} y={11} textAnchor="middle" dominantBaseline="central" fontSize={13.5} fill="#1a1a1a">{h.l1}</text>
            <text x={h.x + h.w / 2} y={25} textAnchor="middle" dominantBaseline="central" fontSize={10.5} fill="#1a1a1a">{h.l2}</text>
          </g>
        ))}
        {letters.map(([t, x, y]) => (
          <text key={t as string} x={x as number} y={y as number} textAnchor="middle" dominantBaseline="central" fontSize={22} fill="#111">{t}</text>
        ))}
        {rows.map(([t, y]) => (
          <g key={t as string}>
            <text x={12} y={y as number} transform={`rotate(-90 12 ${y})`} textAnchor="middle" dominantBaseline="central" fontSize={16} fill="#111">{t}</text>
            <text x={31} y={y as number} transform={`rotate(-90 31 ${y})`} textAnchor="middle" dominantBaseline="central" fontSize={16} fill="#111">loglik</text>
          </g>
        ))}
        {panels.map((c, i) => (
          <text key={'t' + i} x={c.left + c.w / 2} y={c.top - 7} textAnchor="middle" dominantBaseline="central" fontSize={12.5} fill="#111">{title(c.mle, c.ci)}</text>
        ))}
        {insets.map((c, i) => (
          <g key={'it' + i}>
            <text x={c.left + c.w / 2} y={c.top - 6} textAnchor="middle" dominantBaseline="central" fontSize={12.5} fill="#111">{title(c.mle, c.ci)}</text>
            <text x={c.left + 9} y={c.top + c.h - 17} dominantBaseline="central" fontSize={9.5} fill="#111">{'with \u03b8=1'}</text>
            <text x={c.left + 9} y={c.top + c.h - 7} dominantBaseline="central" fontSize={9.5} fill="#111">{'and \u03be=1'}</text>
          </g>
        ))}
        {xTitles.map((t) => (
          <text key={t.text} x={t.x} y={661} textAnchor="middle" dominantBaseline="central" fontSize={15} fill={t.color}>{t.text}</text>
        ))}
      </svg>
    </div>
  );
}
